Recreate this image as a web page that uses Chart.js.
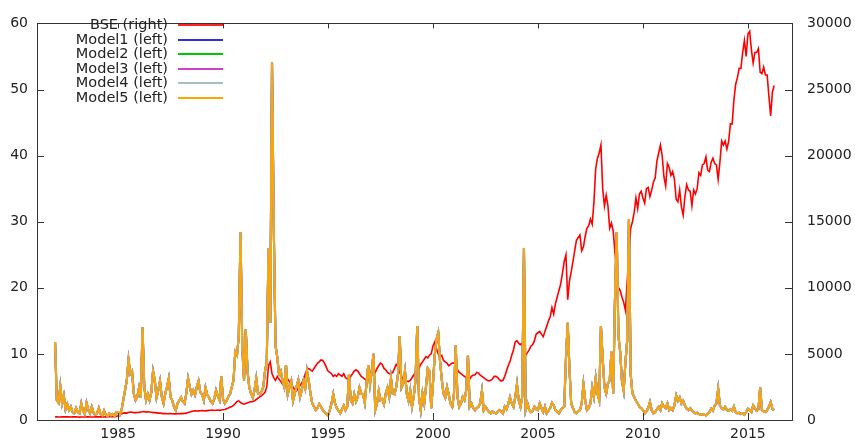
<!DOCTYPE html>
<html>
<head>
<meta charset="utf-8">
<script src="https://cdn.jsdelivr.net/npm/chart.js@4.4.1/dist/chart.umd.min.js"></script>
<style>
  html, body { margin: 0; padding: 0; background: #fff; }
  #wrap { width: 855px; height: 445px; }
</style>
</head>
<body>
<div id="wrap"><canvas id="chart" width="855" height="445"></canvas></div>
<script>
// monthly observations, first one is Jan 1982
const startYear = 1982;

// BSE index level (right axis)
const bse = [
  240, 245, 232, 228, 236, 242, 238, 240, 245, 232, 238, 244,          // 1982
  236, 225, 218, 222, 230, 228, 235, 240, 230, 226, 232, 236,          // 1983
  238, 244, 240, 236, 232, 240, 246, 250, 246, 252, 248, 260,          // 1984
  330, 420, 480, 520, 540, 520, 560, 600, 580, 560, 560, 570,          // 1985
  580, 600, 620, 640, 600, 620, 610, 590, 560, 560, 540, 520,          // 1986
  520, 500, 480, 480, 470, 490, 480, 470, 460, 460, 470, 480,          // 1987
  490, 480, 500, 520, 560, 600, 650, 680, 690, 680, 690, 700,          // 1988
  720, 700, 690, 710, 730, 740, 760, 720, 740, 760, 730, 760,          // 1989
  780, 800, 850, 900, 960, 1020, 1100, 1250, 1400, 1450, 1320, 1250,   // 1990
  1200, 1250, 1300, 1350, 1400, 1380, 1450, 1550, 1650, 1750, 1850, 1950, // 1991
  2100, 2500, 4100, 4400, 3500, 3200, 3000, 3300, 3100, 2900, 2700, 2600, // 1992
  3200, 3100, 2900, 2700, 2500, 2300, 2200, 2400, 2600, 2800, 3100, 3500, // 1993
  3800, 3900, 3800, 3700, 3900, 4100, 4300, 4400, 4550, 4500, 4300, 4000, // 1994
  3700, 3600, 3500, 3300, 3400, 3300, 3500, 3400, 3300, 3500, 3200, 3100, // 1995
  3100, 3300, 3500, 3700, 3800, 3700, 3500, 3300, 3200, 3100, 3000, 3100, // 1996
  3400, 3700, 3800, 3600, 3900, 4100, 4300, 4200, 3900, 3800, 3600, 3500, // 1997
  3500, 3600, 3900, 4200, 4000, 3600, 3300, 3100, 3000, 2950, 2900, 3000, // 1998
  3200, 3400, 3600, 3700, 3900, 4200, 4400, 4600, 4800, 4700, 4900, 5000, // 1999
  5600, 5900, 5400, 5000, 4800, 4900, 4500, 4400, 4300, 4100, 4200, 4300, // 2000
  4300, 4200, 3800, 3600, 3500, 3400, 3300, 3200, 2900, 3100, 3300, 3400, // 2001
  3400, 3600, 3550, 3400, 3300, 3200, 3100, 3000, 2950, 3000, 3100, 3300, // 2002
  3300, 3200, 3050, 2950, 3000, 3300, 3700, 4100, 4400, 4900, 5300, 5900, // 2003
  6000, 5800, 5700, 5800, 4800, 4900, 5100, 5300, 5600, 5700, 6000, 6500, // 2004
  6600, 6700, 6500, 6300, 6700, 7100, 7500, 7800, 8500, 8000, 8800, 9300, // 2005
  9800, 10300, 11100, 12000, 12500, 9100, 10500, 11200, 12000, 12800, 13600, 13800, // 2006
  14000, 12800, 13100, 13900, 14500, 14700, 15200, 14800, 16500, 19000, 19800, 20200, // 2007
  20800, 17500, 16200, 17000, 16200, 14500, 14900, 14300, 12700, 11200, 10000, 9800, // 2008
  9300, 8900, 8300, 10500, 12500, 14500, 15000, 15700, 16800, 16000, 17100, 17300, // 2009
  16800, 16400, 17500, 17600, 16900, 17400, 18000, 18300, 19600, 20200, 20800, 20000, // 2010
  18400, 17700, 19400, 19100, 18500, 18800, 18200, 16700, 16500, 17400, 16100, 15500, // 2011
  16900, 17800, 17400, 17300, 16200, 17400, 17100, 17500, 18700, 18500, 19300, 19400, // 2012
  19900, 18900, 18800, 19500, 19800, 19400, 19300, 18200, 19500, 21100, 20800, 21100, // 2013
  20500, 21100, 22400, 22400, 24200, 25400, 25900, 26600, 26600, 27800, 28700, 27500, // 2014
  29200, 29400, 28000, 27000, 27800, 27800, 28100, 26300, 26200, 26700, 26100, 26100, // 2015
  24500, 23000, 24800, 25300                                                          // 2016
];

// model volatility estimates (left axis); the five models nearly coincide
const volatility = [
  11.8, 3.0, 2.6, 5.1, 2.5, 3.7, 1.6, 2.4, 1.5, 2.0, 1.2, 1.0,   // 1982
  1.8, 1.2, 1.0, 2.5, 1.4, 0.9, 2.6, 1.5, 1.0, 2.0, 1.1, 0.8,    // 1983
  1.0, 1.8, 0.9, 0.7, 1.4, 0.8, 0.6, 1.0, 0.7, 0.9, 0.6, 1.2,    // 1984
  1.2, 0.8, 1.5, 3.0, 4.5, 6.0, 9.1, 7.0, 7.4, 4.0, 3.0, 3.5,    // 1985
  4.9, 3.4, 14.0, 5.0, 3.0, 3.9, 3.0, 4.2, 7.4, 6.0, 3.4, 4.5,   // 1986
  5.9, 3.5, 2.5, 4.0, 5.0, 6.3, 3.5, 2.9, 2.0, 1.5, 2.5, 3.0,    // 1987
  3.4, 2.8, 2.5, 4.0, 6.3, 5.0, 3.9, 4.5, 3.8, 5.0, 5.9, 4.2,    // 1988
  3.9, 3.0, 4.9, 3.8, 3.4, 2.8, 2.5, 3.2, 4.5, 3.6, 3.0, 6.6,    // 1989
  3.2, 2.5, 2.9, 3.5, 3.9, 5.0, 6.0, 10.3, 9.8, 12.7, 28.4, 11.0, // 1990
  6.0, 13.7, 7.4, 4.9, 4.0, 3.4, 4.5, 6.3, 4.0, 3.9, 4.3, 5.0,   // 1991
  7.4, 8.8, 26.0, 14.7, 54.1, 29.4, 11.3, 9.5, 6.9, 7.4, 5.9, 5.0, // 1992
  8.3, 3.9, 5.0, 5.9, 2.9, 4.0, 5.0, 6.0, 3.5, 4.5, 5.9, 4.8,    // 1993
  7.4, 5.9, 4.0, 2.5, 2.0, 1.5, 1.8, 2.4, 2.0, 1.5, 1.2, 0.9,    // 1994
  0.7, 1.5, 2.5, 3.9, 2.5, 1.8, 1.4, 1.0, 1.6, 2.2, 1.5, 2.0,    // 1995
  6.9, 3.0, 2.5, 3.9, 2.8, 3.5, 4.9, 4.0, 3.9, 2.6, 5.5, 8.3,    // 1996
  5.4, 7.4, 10.0, 1.5, 2.5, 4.4, 3.0, 3.2, 2.4, 4.0, 4.9, 3.5,   // 1997
  6.3, 4.0, 3.9, 5.0, 6.9, 12.7, 4.9, 5.5, 7.4, 4.0, 2.9, 4.5,   // 1998
  2.0, 3.5, 6.0, 14.2, 3.5, 1.5, 4.0, 2.5, 5.0, 7.8, 7.4, 1.8,   // 1999
  5.5, 9.8, 12.2, 13.2, 9.0, 6.2, 4.0, 3.4, 5.0, 3.9, 2.5, 2.0,  // 2000
  4.0, 11.3, 3.5, 2.0, 2.5, 3.5, 3.0, 4.5, 9.8, 2.0, 2.5, 1.8,   // 2001
  1.5, 1.8, 2.0, 2.5, 4.4, 1.5, 2.0, 1.6, 1.2, 1.0, 1.3, 1.1,    // 2002
  1.0, 1.2, 1.5, 1.3, 1.0, 2.0, 1.6, 2.4, 3.4, 2.5, 2.0, 3.4,    // 2003
  5.4, 3.0, 2.0, 3.5, 26.0, 1.5, 2.5, 1.5, 1.2, 1.4, 2.0, 1.6,   // 2004
  1.5, 2.5, 1.8, 1.2, 2.0, 1.0, 1.4, 1.8, 2.6, 2.2, 1.5, 1.2,    // 2005
  1.0, 1.5, 1.8, 2.0, 9.3, 14.7, 7.8, 2.5, 1.8, 1.2, 1.0, 1.3,   // 2006
  1.5, 2.5, 5.4, 3.0, 1.5, 1.8, 2.5, 4.9, 3.5, 6.3, 4.0, 3.0,    // 2007
  14.2, 9.3, 5.0, 4.0, 5.5, 6.0, 10.3, 4.0, 18.1, 28.4, 12.7, 10.3, // 2008
  5.9, 4.4, 8.8, 12.0, 30.4, 6.9, 4.0, 3.5, 2.9, 2.5, 2.0, 1.8,  // 2009
  1.5, 1.0, 1.3, 1.8, 2.7, 1.5, 1.0, 1.2, 1.6, 2.0, 1.5, 2.5,    // 2010
  2.0, 1.8, 2.5, 1.5, 1.8, 1.5, 2.2, 3.7, 2.9, 3.4, 2.5, 2.9,    // 2011
  2.2, 1.7, 1.5, 1.8, 1.4, 1.2, 1.0, 1.1, 0.9, 0.8, 0.9, 0.8,    // 2012
  0.7, 0.9, 1.2, 1.7, 1.4, 2.2, 2.5, 4.7, 2.2, 1.8, 1.6, 2.0,    // 2013
  1.5, 1.4, 1.6, 1.4, 2.0, 1.2, 1.0, 1.1, 0.9, 1.0, 0.8, 1.2,    // 2014
  1.7, 1.5, 1.2, 2.2, 1.8, 1.4, 1.6, 4.9, 1.5, 1.3, 1.2, 1.5,    // 2015
  2.0, 2.7, 1.7, 1.5                                             // 2016
];

const seriesNames = ['BSE (right)', 'Model1 (left)', 'Model2 (left)', 'Model3 (left)', 'Model4 (left)', 'Model5 (left)'];
const seriesColors = ['#ff2020', '#3030e0', '#00c800', '#d040d0', '#a8bec6', '#ffa500'];
const xTicks = [1985, 1990, 1995, 2000, 2005, 2010, 2015];

const toPoints = arr => arr.map((v, i) => ({x: startYear + i / 12, y: v}));

const FONT = 'DejaVu Sans, Verdana, sans-serif';
const TEXT = '#222';

// gnuplot style: box round the plot, ticks pointing inwards, legend top-left
const framePlugin = {
  id: 'frame',
  afterDraw(chart) {
    const {ctx, chartArea: a, scales} = chart;
    ctx.save();
    ctx.strokeStyle = '#333';
    ctx.lineWidth = 1;
    ctx.beginPath();
    xTicks.forEach(t => {
      const px = Math.round(scales.x.getPixelForValue(t)) + 0.5;
      ctx.moveTo(px, a.bottom); ctx.lineTo(px, a.bottom - 7);
      ctx.moveTo(px, a.top); ctx.lineTo(px, a.top + 5);
    });
    scales.y.ticks.forEach(t => {
      const py = Math.round(scales.y.getPixelForValue(t.value)) + 0.5;
      ctx.moveTo(a.left, py); ctx.lineTo(a.left + 7, py);
    });
    scales.y2.ticks.forEach(t => {
      const py = Math.round(scales.y2.getPixelForValue(t.value)) + 0.5;
      ctx.moveTo(a.right, py); ctx.lineTo(a.right - 7, py);
    });
    ctx.stroke();
    ctx.strokeRect(Math.round(a.left) + 0.5, Math.round(a.top) + 0.5,
                   Math.round(a.right - a.left), Math.round(a.bottom - a.top));

    // legend
    ctx.font = '14.5px ' + FONT;
    ctx.textAlign = 'right';
    ctx.textBaseline = 'middle';
    seriesNames.forEach((name, i) => {
      const y = Math.round(25 + i * 14.6);
      ctx.fillStyle = TEXT;
      ctx.fillText(name, 168, y);
      ctx.strokeStyle = seriesColors[i];
      ctx.lineWidth = 2;
      ctx.beginPath();
      ctx.moveTo(178, y);
      ctx.lineTo(223, y);
      ctx.stroke();
    });
    ctx.restore();
  }
};

const datasets = seriesNames.map((name, i) => ({
  label: name,
  data: toPoints(i === 0 ? bse : volatility),
  yAxisID: i === 0 ? 'y2' : 'y',
  borderColor: i === 0 ? '#ff0000' : seriesColors[i],
  borderWidth: i === 0 ? 1.6 : (i === 5 ? 1.8 : 2.1),
  pointRadius: 0,
  tension: 0,
  order: 6 - i
}));

const tickFont = {family: FONT, size: 14};

new Chart(document.getElementById('chart'), {
  type: 'line',
  data: {datasets},
  options: {
    responsive: false,
    animation: false,
    devicePixelRatio: 1,
    layout: {padding: {top: 12, left: 0, right: 0, bottom: 0}},
    plugins: {legend: {display: false}, tooltip: {enabled: false}},
    scales: {
      x: {
        type: 'linear',
        min: 1981.14,
        max: 2017.1,
        afterBuildTicks: s => { s.ticks = xTicks.map(v => ({value: v})); },
        afterFit: s => { s.height = 25; },
        ticks: {color: TEXT, font: tickFont, padding: 6, maxRotation: 0, autoSkip: false,
                callback: v => String(v)},
        grid: {display: false, drawTicks: false},
        border: {display: false}
      },
      y: {
        position: 'left',
        min: 0, max: 60,
        afterFit: s => { s.width = 37; },
        ticks: {stepSize: 10, color: TEXT, font: tickFont, padding: 9, callback: v => String(v)},
        grid: {display: false, drawTicks: false},
        border: {display: false}
      },
      y2: {
        position: 'right',
        min: 0, max: 30000,
        afterFit: s => { s.width = 63; },
        ticks: {stepSize: 5000, color: TEXT, font: tickFont, padding: 15, callback: v => String(v)},
        grid: {display: false, drawTicks: false},
        border: {display: false}
      }
    }
  },
  plugins: [framePlugin]
});
</script>
</body>
</html>
